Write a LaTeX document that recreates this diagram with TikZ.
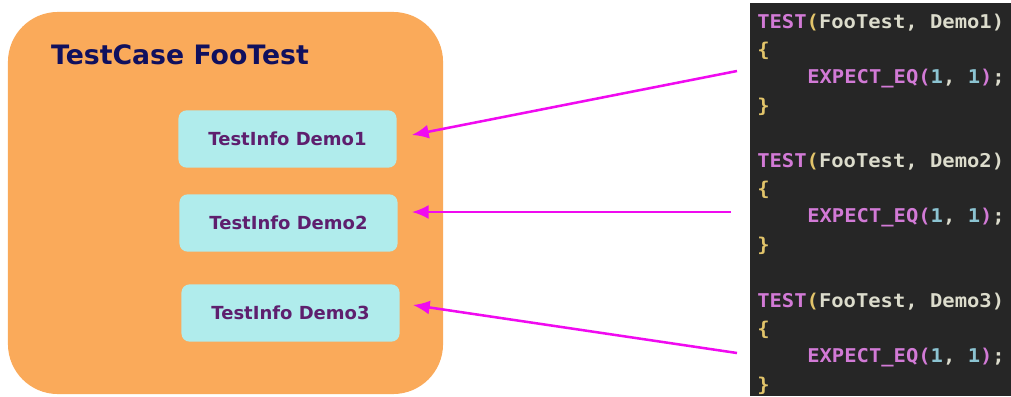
\documentclass[tikz,border=0pt]{standalone}
\usepackage{fontspec}
\setmainfont{DejaVu Sans}
\newfontfamily\codefont[FakeStretch=1.08]{DejaVu Sans Mono}
\usepackage{xcolor}
\usetikzlibrary{shapes,arrows.meta,positioning}

\definecolor{caseorange}{HTML}{FAAA5A}
\definecolor{infocyan}{HTML}{B0ECEC}
\definecolor{infotext}{HTML}{5E1F6E}
\definecolor{titlenavy}{HTML}{10105E}
\definecolor{codebg}{HTML}{262626}
\definecolor{codekw}{HTML}{D27AD6}
\definecolor{codebr}{HTML}{E2C46A}
\definecolor{codetx}{HTML}{DCDCCC}
\definecolor{codenum}{HTML}{8CC4D2}
\definecolor{arrowpink}{HTML}{F00AF0}

\newcommand{\testhead}[1]{{\color{codekw}TEST}{\color{codebr}(}FooTest, Demo#1)}
\newcommand{\expectline}{{\color{codekw}EXPECT\_EQ(}{\color{codenum}1}, {\color{codenum}1}{\color{codekw})};}

\begin{document}
\begin{tikzpicture}[x=0.025cm, y=-0.025cm,
  casebox/.style={fill=caseorange, rounded corners=1.25cm, minimum width=10.875cm, minimum height=9.55cm},
  infobox/.style={fill=infocyan, rounded corners=0.2cm, minimum width=5.45cm, minimum height=1.43cm,
    text=infotext, font=\bfseries\fontsize{12.8}{15}\selectfont},
  codeline/.style={anchor=west, inner sep=0pt, text=codetx, font=\codefont\bfseries\fontsize{13.5}{16}\selectfont},
  link/.style={draw=arrowpink, line width=1.8pt, -{Latex[length=12pt, width=10pt]}}]
\useasboundingbox (0,0) rectangle (1011,396);

\node (testcase) [casebox] at (225.5,203) {};
\node (title) [text=titlenavy, font=\bfseries\fontsize{19}{23}\selectfont] at (180,55) {TestCase FooTest};
\node (demo1) [infobox] at (287.5,139) {TestInfo Demo1};
\node (demo2) [infobox] at (288.5,223) {TestInfo Demo2};
\node (demo3) [infobox] at (290.5,313) {TestInfo Demo3};

\node (codepanel) [fill=codebg, anchor=north west, minimum width=6.525cm, minimum height=9.825cm, inner sep=0pt] at (750,3) {};
\foreach \n/\y in {1/23,2/162,3/302} {
  \node (head\n) [codeline] at (757,\y) {\testhead{\n}};
  \node (open\n) [codeline] at (757,\y+28) {{\color{codebr}\{}};
  \node (expect\n) [codeline] at (807,\y+56) {\expectline};
  \node (close\n) [codeline] at (757,\y+84) {{\color{codebr}\}}};
}

\coordinate (from1) at (737,71);
\coordinate (from2) at (731,212);
\coordinate (from3) at (737,353);
\draw[link] (from1) -- ([shift={(15,-4)}]demo1.east);
\draw[link] (from2) -- ([shift={(14,-11)}]demo2.east);
\draw[link] (from3) -- ([shift={(13,-8)}]demo3.east);
\end{tikzpicture}
\end{document}
